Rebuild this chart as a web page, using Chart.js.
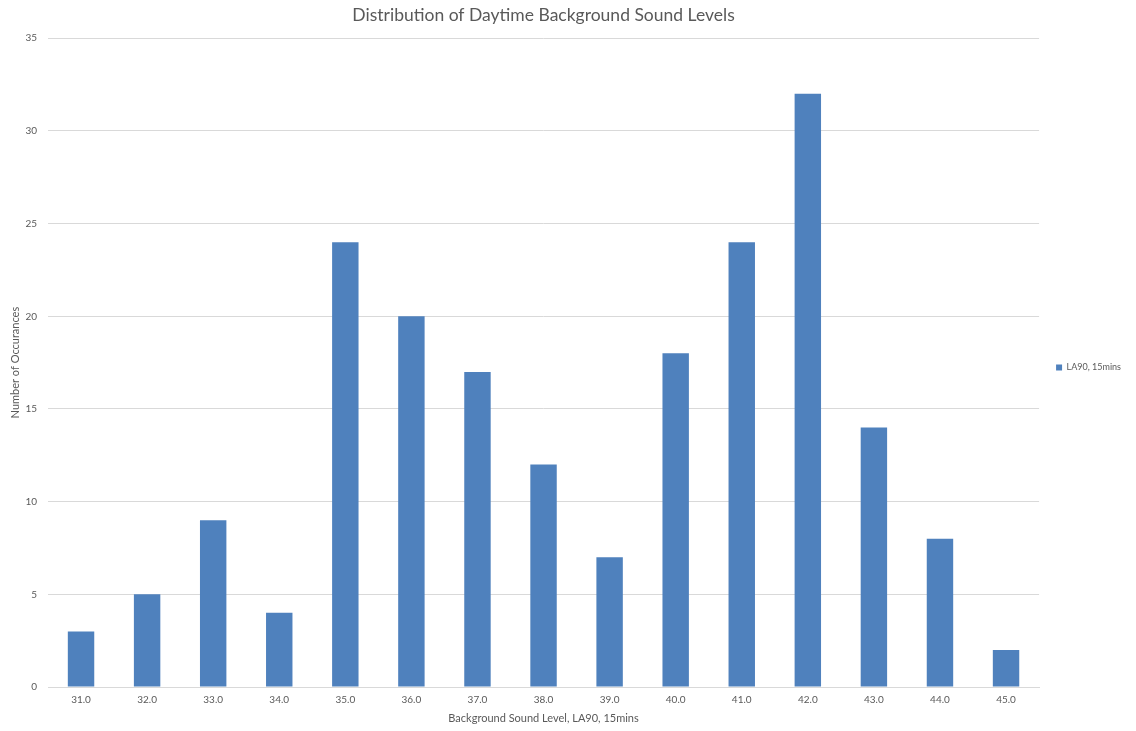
<!DOCTYPE html>
<html>
<head>
<meta charset="utf-8">
<script src="https://cdn.jsdelivr.net/npm/chart.js@4"></script>
<style>
  html, body { margin: 0; padding: 0; background: #fff; }
  #wrap { width: 1136px; height: 731px; }
</style>
</head>
<body>
<div id="wrap"><canvas id="c" width="1136" height="731"></canvas></div>
<script>
// Background sound level bins (dB, LA90 over 15 minutes)
const categories = ['31.0','32.0','33.0','34.0','35.0','36.0','37.0','38.0','39.0','40.0','41.0','42.0','43.0','44.0','45.0'];
// Number of 15-minute periods falling in each bin
const occurrences = [3, 5, 9, 4, 24, 20, 17, 12, 7, 18, 24, 32, 14, 8, 2];
const seriesName = 'LA90, 15mins';

const textColor = '#595959';
const gridColor = '#d9d9d9';
const fontFamily = 'Lato, "Noto Sans", sans-serif';

new Chart(document.getElementById('c'), {
  type: 'bar',
  data: {
    labels: categories,
    datasets: [{
      label: seriesName,
      data: occurrences,
      backgroundColor: '#4f81bd',
      borderWidth: 0,
      categoryPercentage: 1.0,
      barPercentage: 0.4
    }]
  },
  options: {
    responsive: false,
    animation: false,
    devicePixelRatio: 1,
    layout: { padding: { left: 0, right: 5, top: 6, bottom: 2 } },
    plugins: {
      title: {
        display: true,
        text: 'Distribution of Daytime Background Sound Levels',
        color: textColor,
        fullSize: false,
        font: { family: fontFamily, size: 17.5, weight: 'normal', lineHeight: 1.1 },
        padding: { top: 0, bottom: 13 }
      },
      legend: {
        position: 'right',
        labels: {
          color: textColor,
          boxWidth: 6,
          boxHeight: 6,
          padding: 17,
          font: { family: fontFamily, size: 9 }
        }
      },
      tooltip: { enabled: false }
    },
    scales: {
      x: {
        grid: { display: false, drawTicks: false },
        border: { display: true, color: gridColor, width: 1 },
        ticks: { color: textColor, font: { family: fontFamily, size: 10 }, padding: 7, maxRotation: 0 },
        title: {
          display: true,
          text: 'Background Sound Level, LA90, 15mins',
          color: textColor,
          font: { family: fontFamily, size: 11, lineHeight: 1.0 },
          padding: { top: 0, bottom: 5 }
        }
      },
      y: {
        min: 0,
        max: 35,
        afterFit: (scale) => { scale.width = 48; },
        ticks: { stepSize: 5, color: textColor, font: { family: fontFamily, size: 10 }, padding: 11 },
        grid: { color: gridColor, drawTicks: false },
        border: { display: false },
        title: {
          display: true,
          text: 'Number of Occurances',
          color: textColor,
          font: { family: fontFamily, size: 11 },
          padding: { top: 9, bottom: 0 }
        }
      }
    }
  }
});
</script>
</body>
</html>
